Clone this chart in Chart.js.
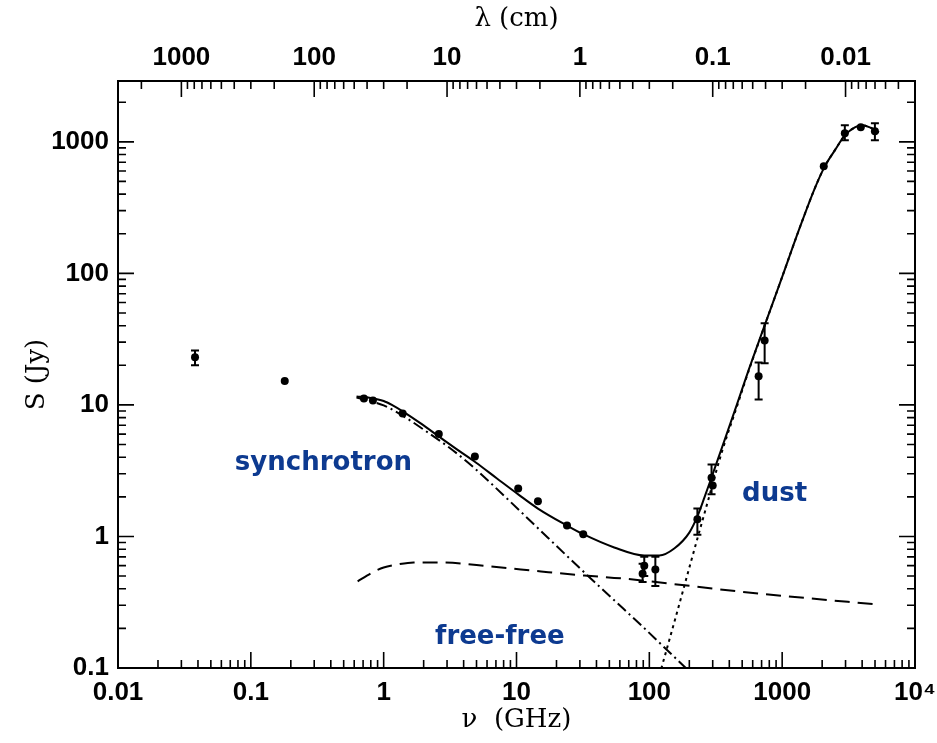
<!DOCTYPE html>
<html>
<head>
<meta charset="utf-8">
<script src="https://cdn.jsdelivr.net/npm/chart.js@4.4.1/dist/chart.umd.min.js"></script>
<style>
  html, body { margin: 0; padding: 0; background: #fff; }
  canvas { display: block; }
</style>
</head>
<body>
<canvas id="sed" width="937" height="743"></canvas>
<script>
// Observed flux densities (GHz, Jy) with error bar limits (null = no bar)
const obsFreq = [0.038, 0.18, 0.71, 0.83, 1.39, 2.6, 4.86, 10.3, 14.5, 24, 31.8, 89, 91.6, 111, 230, 294, 300, 665, 738, 2056, 2963, 3906, 4990];
const obsFlux = [23.0, 15.2, 11.2, 10.8, 8.6, 6.0, 4.06, 2.32, 1.85, 1.21, 1.04, 0.52, 0.60, 0.56, 1.35, 2.8, 2.44, 16.5, 30.9, 651, 1161, 1289, 1202];
const obsLo   = [20.0, null, null, null, null, null, null, null, null, null, null, 0.45, 0.50, 0.42, 1.03, 2.09, null, 11.0, 20.7, null, 1026, null, 1026];
const obsHi   = [25.9, null, null, null, null, null, null, null, null, null, null, 0.62, 0.70, 0.70, 1.63, 3.53, null, 21.0, 41.7, null, 1335, null, 1383];

// Model curves
const totalFreq = [0.625, 0.798, 1.0, 1.17, 1.39, 1.90, 2.60, 3.56, 4.94, 7.13, 10.3, 14.5, 24, 31.8, 54.4, 91.6, 119, 154, 200, 230, 260, 294, 368, 454, 558, 738, 991, 1333, 1760, 2094, 2490, 2963, 3525, 3981, 4571, 5346];
const totalFlux = [11.6, 11.3, 10.7, 9.91, 8.93, 7.23, 5.76, 4.59, 3.65, 2.76, 2.09, 1.63, 1.21, 1.04, 0.825, 0.717, 0.717, 0.81, 1.07, 1.42, 1.98, 2.81, 5.37, 9.91, 18.3, 40.2, 91.6, 212, 443, 651, 861, 1120, 1289, 1334, 1289, 1181];

const syncFreq = [0.625, 1.0, 1.34, 2.15, 3.04, 4.31, 6.20, 8.77, 13.6, 30.7, 51.6, 87, 123, 190];
const syncFlux = [11.4, 9.91, 8.47, 6.18, 4.83, 3.65, 2.62, 1.88, 1.23, 0.561, 0.344, 0.211, 0.151, 0.099];

const ffFreq = [0.637, 0.798, 1.0, 1.27, 1.68, 2.69, 6.43, 15.3, 32.3, 61.5, 219, 470, 1120, 5260];
const ffFlux = [0.455, 0.523, 0.581, 0.612, 0.634, 0.634, 0.591, 0.542, 0.505, 0.48, 0.417, 0.382, 0.35, 0.304];

const dustFreq = [123, 160, 207, 269, 349, 454, 558, 738, 991, 1333, 1760, 2094, 2490, 2963, 3525, 3981, 4571, 5346];
const dustFlux = [0.099, 0.255, 0.657, 1.69, 4.28, 9.57, 18.0, 40.0, 91.6, 212, 443, 651, 861, 1120, 1289, 1334, 1289, 1181];

// Tick values and labels
const freqTicks = [0.01, 0.1, 1, 10, 100, 1000, 10000];
const freqTickLabels = ['0.01', '0.1', '1', '10', '100', '1000', '10\u2074'];
const fluxTicks = [0.1, 1, 10, 100, 1000];
const fluxTickLabels = ['0.1', '1', '10', '100', '1000'];
const lambdaTicks = [1000, 100, 10, 1, 0.1, 0.01];
const lambdaTickLabels = ['1000', '100', '10', '1', '0.1', '0.01'];

const zip = (xs, ys) => xs.map((x, i) => ({ x: x, y: ys[i] }));

const INK = '#000';
const BLUE = '#0d3a90';
const tickFont = { family: "'Liberation Sans', Arial, sans-serif", size: 26, weight: 'bold' };
const titleFont = { family: "'DejaVu Serif', serif", size: 26 };

// major / minor positions for a log range
function logTicks(min, max) {
  const major = [], minor = [];
  for (let k = -4; k <= 5; k++) {
    for (let m = 1; m <= 9; m++) {
      const v = m * Math.pow(10, k);
      if (v < min * 0.999 || v > max * 1.001) continue;
      (m === 1 ? major : minor).push(v);
    }
  }
  return { major, minor };
}

// frame plus inward ticks on all four sides
const framePlugin = {
  id: 'frame',
  afterDraw(chart) {
    const { ctx, chartArea: a, scales } = chart;
    ctx.save();
    ctx.strokeStyle = INK;
    ctx.lineWidth = 1.6;
    const majorLen = 16, minorLen = 8;

    const drawX = (scale, vals, len) => {
      vals.forEach(v => {
        const px = scale.getPixelForValue(v);
        ctx.beginPath();
        if (scale === scales.x) { ctx.moveTo(px, a.bottom); ctx.lineTo(px, a.bottom - len); }
        else { ctx.moveTo(px, a.top); ctx.lineTo(px, a.top + len); }
        ctx.stroke();
      });
    };
    const fx = logTicks(0.01, 10000);
    drawX(scales.x, fx.major, majorLen);
    drawX(scales.x, fx.minor, minorLen);
    const fl = logTicks(0.003, 3000);
    drawX(scales.x2, fl.major, majorLen);
    drawX(scales.x2, fl.minor, minorLen);

    const drawY = (vals, len) => {
      vals.forEach(v => {
        const py = scales.y.getPixelForValue(v);
        ctx.beginPath();
        ctx.moveTo(a.left, py); ctx.lineTo(a.left + len, py);
        ctx.moveTo(a.right, py); ctx.lineTo(a.right - len, py);
        ctx.stroke();
      });
    };
    const fy = logTicks(0.1, 2900);
    drawY(fy.major, majorLen);
    drawY(fy.minor, minorLen);

    ctx.lineWidth = 2;
    ctx.strokeRect(a.left, a.top, a.right - a.left, a.bottom - a.top);
    ctx.restore();
  }
};

// vertical error bars with caps
const errorBarPlugin = {
  id: 'errorBars',
  afterDatasetsDraw(chart) {
    const { ctx, scales: { x, y } } = chart;
    ctx.save();
    ctx.strokeStyle = INK;
    ctx.lineWidth = 2;
    obsFreq.forEach((f, i) => {
      if (obsLo[i] == null) return;
      const px = x.getPixelForValue(f);
      const lo = y.getPixelForValue(obsLo[i]);
      const hi = y.getPixelForValue(obsHi[i]);
      ctx.beginPath();
      ctx.moveTo(px, lo); ctx.lineTo(px, hi);
      ctx.moveTo(px - 4, lo); ctx.lineTo(px + 4, lo);
      ctx.moveTo(px - 4, hi); ctx.lineTo(px + 4, hi);
      ctx.stroke();
    });
    ctx.restore();
  }
};

// component labels
const labelPlugin = {
  id: 'componentLabels',
  afterDraw(chart) {
    const { ctx, scales: { x, y } } = chart;
    ctx.save();
    ctx.fillStyle = BLUE;
    ctx.font = "bold 26px 'DejaVu Sans', Verdana, sans-serif";
    ctx.textAlign = 'center';
    ctx.textBaseline = 'middle';
    ctx.fillText('synchrotron', x.getPixelForValue(0.352), y.getPixelForValue(3.59));
    ctx.fillText('free-free', x.getPixelForValue(7.5), y.getPixelForValue(0.171));
    ctx.fillText('dust', x.getPixelForValue(877), y.getPixelForValue(2.09));
    ctx.restore();
  }
};

function fixedSize(size) {
  return scale => {
    if (scale.isHorizontal()) scale.height = size; else scale.width = size;
    scale.paddingLeft = 0; scale.paddingRight = 0;
    scale.paddingTop = 0; scale.paddingBottom = 0;
  };
}

const curve = (data, dash) => ({
  type: 'line',
  data: data,
  borderColor: INK,
  borderWidth: 2,
  borderDash: dash,
  pointRadius: 0,
  fill: false,
  cubicInterpolationMode: 'monotone'
});

new Chart(document.getElementById('sed'), {
  type: 'scatter',
  data: {
    datasets: [
      curve(zip(totalFreq, totalFlux), []),
      curve(zip(syncFreq, syncFlux), [11, 4, 2, 4]),
      curve(zip(ffFreq, ffFlux), [15, 8]),
      curve(zip(dustFreq, dustFlux), [3, 4]),
      {
        type: 'scatter',
        data: zip(obsFreq, obsFlux),
        pointRadius: 4,
        pointStyle: 'circle',
        backgroundColor: INK,
        borderColor: INK,
        borderWidth: 0
      }
    ]
  },
  options: {
    responsive: false,
    animation: false,
    events: [],
    layout: { padding: { right: 22 } },
    plugins: { legend: { display: false }, tooltip: { enabled: false } },
    scales: {
      x: {
        type: 'logarithmic',
        position: 'bottom',
        min: 0.01,
        max: 10000,
        grid: { display: false, drawTicks: false },
        border: { display: false },
        afterBuildTicks: s => { s.ticks = freqTicks.map(v => ({ value: v })); },
        afterFit: fixedSize(75),
        ticks: {
          autoSkip: false, maxRotation: 0, padding: 9, color: INK, font: tickFont,
          callback: (v, i) => freqTickLabels[i]
        },
        title: { display: true, text: '\u03bd  (GHz)', color: INK, font: titleFont, padding: { top: 0, bottom: 7 } }
      },
      x2: {
        type: 'logarithmic',
        axis: 'x',
        position: 'top',
        reverse: true,
        min: 0.003,
        max: 3000,
        grid: { display: false, drawTicks: false },
        border: { display: false },
        afterBuildTicks: s => { s.ticks = lambdaTicks.map(v => ({ value: v })); },
        afterFit: fixedSize(81),
        ticks: {
          autoSkip: false, maxRotation: 0, padding: 8, color: INK, font: tickFont,
          callback: (v, i) => lambdaTickLabels[i]
        },
        title: { display: true, text: '\u03bb (cm)', color: INK, font: titleFont, padding: { top: 4, bottom: 0 } }
      },
      y: {
        type: 'logarithmic',
        position: 'left',
        min: 0.1,
        max: 2900,
        grid: { display: false, drawTicks: false },
        border: { display: false },
        afterBuildTicks: s => { s.ticks = fluxTicks.map(v => ({ value: v })); },
        afterFit: fixedSize(118),
        ticks: {
          autoSkip: false, padding: 9, color: INK, font: tickFont,
          callback: (v, i) => fluxTickLabels[i]
        },
        title: { display: true, text: 'S (Jy)', color: INK, font: titleFont, padding: { top: 22, bottom: 0 } }
      }
    }
  },
  plugins: [errorBarPlugin, framePlugin, labelPlugin]
});
</script>
</body>
</html>
